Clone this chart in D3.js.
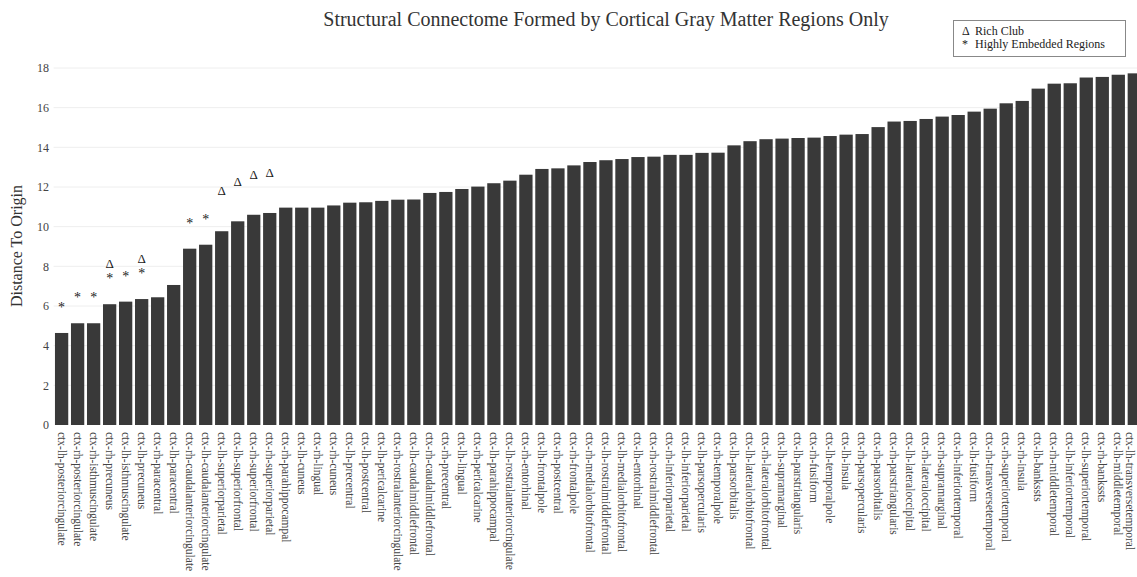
<!DOCTYPE html>
<html>
<head>
<meta charset="utf-8">
<script src="https://cdn.jsdelivr.net/npm/d3@7"></script>
<style>
  html, body { margin: 0; padding: 0; background: #fff; }
  svg { display: block; }
  text { font-family: "Liberation Serif", "Times New Roman", Times, serif; }
</style>
</head>
<body>
<svg id="chart" width="1137" height="577"></svg>
<script>
// Cortical regions, ordered by distance to origin
const regions = [
  "ctx-lh-posteriorcingulate", "ctx-rh-posteriorcingulate", "ctx-rh-isthmuscingulate", "ctx-rh-precuneus",
  "ctx-lh-isthmuscingulate", "ctx-lh-precuneus", "ctx-rh-paracentral", "ctx-lh-paracentral",
  "ctx-rh-caudalanteriorcingulate", "ctx-lh-caudalanteriorcingulate", "ctx-lh-superiorparietal", "ctx-lh-superiorfrontal",
  "ctx-rh-superiorfrontal", "ctx-rh-superiorparietal", "ctx-rh-parahippocampal", "ctx-lh-cuneus",
  "ctx-rh-lingual", "ctx-rh-cuneus", "ctx-lh-precentral", "ctx-lh-postcentral",
  "ctx-lh-pericalcarine", "ctx-rh-rostralanteriorcingulate", "ctx-lh-caudalmiddlefrontal", "ctx-rh-caudalmiddlefrontal",
  "ctx-rh-precentral", "ctx-lh-lingual", "ctx-rh-pericalcarine", "ctx-lh-parahippocampal",
  "ctx-lh-rostralanteriorcingulate", "ctx-rh-entorhinal", "ctx-lh-frontalpole", "ctx-rh-postcentral",
  "ctx-rh-frontalpole", "ctx-rh-medialorbitofrontal", "ctx-lh-rostralmiddlefrontal", "ctx-lh-medialorbitofrontal",
  "ctx-lh-entorhinal", "ctx-rh-rostralmiddlefrontal", "ctx-rh-inferiorparietal", "ctx-lh-inferiorparietal",
  "ctx-lh-parsopercularis", "ctx-rh-temporalpole", "ctx-lh-parsorbitalis", "ctx-lh-lateralorbitofrontal",
  "ctx-rh-lateralorbitofrontal", "ctx-lh-supramarginal", "ctx-lh-parstriangularis", "ctx-rh-fusiform",
  "ctx-lh-temporalpole", "ctx-lh-insula", "ctx-rh-parsopercularis", "ctx-rh-parsorbitalis",
  "ctx-rh-parstriangularis", "ctx-lh-lateraloccipital", "ctx-rh-lateraloccipital", "ctx-rh-supramarginal",
  "ctx-rh-inferiortemporal", "ctx-lh-fusiform", "ctx-rh-transversetemporal", "ctx-rh-superiortemporal",
  "ctx-rh-insula", "ctx-lh-bankssts", "ctx-rh-middletemporal", "ctx-lh-inferiortemporal",
  "ctx-lh-superiortemporal", "ctx-rh-bankssts", "ctx-lh-middletemporal", "ctx-lh-transversetemporal"
];

const distances = [
  4.64, 5.13, 5.13, 6.09, 6.22, 6.35, 6.44, 7.06,
  8.89, 9.09, 9.77, 10.27, 10.60, 10.69, 10.96, 10.96,
  10.96, 11.07, 11.21, 11.23, 11.30, 11.36, 11.37, 11.70,
  11.75, 11.90, 12.02, 12.19, 12.32, 12.62, 12.91, 12.94,
  13.09, 13.26, 13.35, 13.41, 13.51, 13.53, 13.62, 13.62,
  13.72, 13.73, 14.10, 14.31, 14.41, 14.44, 14.47, 14.49,
  14.57, 14.64, 14.67, 15.02, 15.30, 15.33, 15.43, 15.55,
  15.63, 15.80, 15.95, 16.22, 16.34, 16.96, 17.21, 17.23,
  17.52, 17.55, 17.66, 17.73
];

// Group membership
const richClub = [
  "ctx-rh-precuneus", "ctx-lh-precuneus", "ctx-lh-superiorparietal",
  "ctx-lh-superiorfrontal", "ctx-rh-superiorfrontal", "ctx-rh-superiorparietal"
];
const highlyEmbedded = [
  "ctx-lh-posteriorcingulate", "ctx-rh-posteriorcingulate", "ctx-rh-isthmuscingulate", "ctx-rh-precuneus",
  "ctx-lh-isthmuscingulate", "ctx-lh-precuneus", "ctx-rh-caudalanteriorcingulate", "ctx-lh-caudalanteriorcingulate"
];

const yTicks = [0, 2, 4, 6, 8, 10, 12, 14, 16, 18];
const titleText = "Structural Connectome Formed by Cortical Gray Matter Regions Only";
const yTitle = "Distance To Origin";
const legendItems = [
  { symbol: "\u0394", label: "Rich Club" },
  { symbol: "*", label: "Highly Embedded Regions" }
];

const data = regions.map((r, i) => ({ region: r, value: distances[i] }));

const W = 1137;
const svg = d3.select("#chart");

const x = d3.scaleBand()
  .domain(regions)
  .range([53.6, 1142.3])
  .paddingInner(0.17)
  .paddingOuter(0.085);

const y = d3.scaleLinear().domain([0, 18]).range([425, 68]);

// horizontal grid
svg.append("g")
  .selectAll("line")
  .data(yTicks.filter(t => t > 0))
  .join("line")
  .attr("x1", 53.6).attr("x2", W)
  .attr("y1", d => y(d)).attr("y2", d => y(d))
  .attr("stroke", "#eeeeee")
  .attr("stroke-width", 1);

// y axis labels
const yAxis = d3.axisLeft(y).tickValues(yTicks).tickSize(0).tickPadding(4);
const gy = svg.append("g").attr("transform", "translate(53,0)").call(yAxis);
gy.select(".domain").remove();
gy.selectAll("text")
  .attr("font-size", 12)
  .attr("fill", "#444");

// bars
svg.append("g")
  .selectAll("rect")
  .data(data)
  .join("rect")
  .attr("x", d => x(d.region))
  .attr("y", d => y(d.value))
  .attr("width", x.bandwidth())
  .attr("height", d => y(0) - y(d.value))
  .attr("fill", "#393939");

// x axis labels (rotated, reading downward); keep the last one inside the frame
const xAxis = d3.axisBottom(x).tickSize(0).tickPadding(0);
const gx = svg.append("g").attr("transform", `translate(0,${y(0)})`).call(xAxis);
gx.select(".domain").remove();
gx.selectAll(".tick").attr("transform", d => {
  const cx = Math.min(x(d) + x.bandwidth() / 2, W - 7);
  return `translate(${cx},0)`;
});
gx.selectAll("text")
  .attr("font-size", 11.5)
  .attr("fill", "#444")
  .attr("text-anchor", "start")
  .attr("dy", null)
  .attr("y", 0)
  .attr("transform", "translate(0,7) rotate(90)")
  .attr("dominant-baseline", "central");

// group markers above bars
const markers = svg.append("g").attr("fill", "#222");
markers.selectAll("text.star")
  .data(data.filter(d => highlyEmbedded.includes(d.region)))
  .join("text")
  .attr("class", "star")
  .attr("x", d => x(d.region) + x.bandwidth() / 2)
  .attr("y", d => y(d.value + 1.4) + 7)
  .attr("text-anchor", "middle")
  .attr("font-size", 14)
  .text("*");
markers.selectAll("text.tri")
  .data(data.filter(d => richClub.includes(d.region)))
  .join("text")
  .attr("class", "tri")
  .attr("x", d => x(d.region) + x.bandwidth() / 2)
  .attr("y", d => y(d.value + 2.03) + 4.5)
  .attr("text-anchor", "middle")
  .attr("font-size", 13)
  .text("\u0394");

// title
svg.append("text")
  .attr("x", 606).attr("y", 26)
  .attr("text-anchor", "middle")
  .attr("font-size", 20)
  .attr("fill", "#333")
  .text(titleText);

// y title
svg.append("text")
  .attr("transform", "translate(22,246) rotate(-90)")
  .attr("text-anchor", "middle")
  .attr("font-size", 16)
  .attr("fill", "#333")
  .text(yTitle);

// legend
const lg = svg.append("g").attr("transform", "translate(953,20)");
lg.append("rect")
  .attr("x", 0.5).attr("y", 0.5)
  .attr("width", 172).attr("height", 36)
  .attr("fill", "#fff")
  .attr("stroke", "#888")
  .attr("stroke-width", 1);
lg.selectAll("g.item")
  .data(legendItems)
  .join("g")
  .attr("class", "item")
  .attr("transform", (d, i) => `translate(0,${15 + i * 13})`)
  .each(function (d) {
    const g = d3.select(this);
    g.append("text").attr("x", 9).attr("y", 0).attr("font-size", 12).attr("fill", "#222").text(d.symbol);
    g.append("text").attr("x", 22).attr("y", 0).attr("font-size", 12).attr("fill", "#222").text(d.label);
  });
</script>
</body>
</html>
